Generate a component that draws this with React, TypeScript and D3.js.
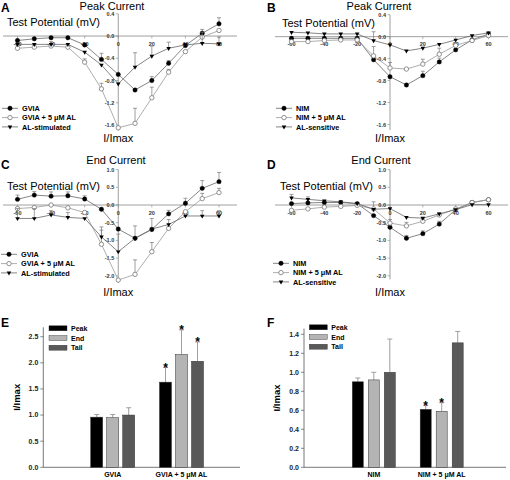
import React from "react";
import * as d3 from "d3";

// ---------- data ----------
const voltages = [-60, -50, -40, -30, -20, -10, 0, 10, 20, 30, 40, 50, 60];
const xTickValues = [-60, -40, -20, 0, 20, 40, 60];

// Panel A: Peak current (GVIA)
const aGVIA = [-0.08, -0.05, -0.03, -0.03, -0.16, -0.42, -0.69, -0.97, -0.8, -0.49, -0.17, 0.05, 0.22];
const aGVIAErr = [0, 0, 0, 0, 0, 0.11, 0, 0, 0.07, 0.05, 0, 0.07, 0.11];
const aGVIAAL = [-0.22, -0.2, -0.18, -0.2, -0.47, -0.95, -1.65, -1.57, -1.11, -0.65, -0.28, -0.02, 0.1];
const aGVIAALErr = [0, 0, 0, 0, 0.06, 0.1, 0, 0.27, 0.19, 0.05, 0, 0, 0];
const aALStim = [-0.15, -0.15, -0.15, -0.15, -0.29, -0.52, -0.86, -0.56, -0.36, -0.22, -0.16, -0.13, -0.14];
const aALStimErr = [0, 0, 0.05, 0, 0, 0, 0, 0.26, 0.18, 0.11, 0, 0.2, 0.12];

// Panel B: Peak current (NIM)
const bNIM = [-0.03, -0.03, -0.03, -0.03, -0.03, -0.42, -0.73, -0.88, -0.71, -0.46, -0.24, -0.06, 0.05];
const bNIMErr = [0, 0, 0, 0, 0, 0, 0, 0, 0.08, 0.07, 0, 0, 0];
const bNIMAL = [-0.09, -0.09, -0.07, -0.06, -0.06, -0.35, -0.57, -0.59, -0.5, -0.32, -0.16, -0.07, 0.02];
const bNIMALErr = [0, 0, 0, 0, 0, 0.17, 0.1, 0, 0.09, 0.11, 0.05, 0, 0];
const bALSens = [0.08, 0.07, 0.05, 0.05, 0.05, -0.07, -0.15, -0.26, -0.21, -0.14, -0.06, 0.02, 0.07];
const bALSensErr = [0, 0, 0, 0, 0, 0.16, 0, 0, 0, 0, 0, 0, 0];

// Panel C: End current (GVIA)
const cGVIA = [0.16, 0.28, 0.25, 0.26, 0.17, -0.12, -0.68, -0.94, -0.69, -0.25, 0.05, 0.47, 0.66];
const cGVIAErr = [0.12, 0.1, 0.12, 0.11, 0.09, 0, 0, 0.35, 0.31, 0.1, 0.14, 0.22, 0.26];
const cGVIAAL = [-0.1, -0.07, 0.0, -0.08, -0.21, -1.11, -2.12, -1.96, -1.32, -0.66, -0.19, 0.18, 0.35];
const cGVIAALErr = [0, 0, 0, 0, 0, 0.4, 0, 0.41, 0.26, 0, 0, 0.15, 0.12];
const cALStim = [-0.38, -0.38, -0.28, -0.35, -0.38, -0.9, -1.32, -0.94, -0.68, -0.55, -0.31, -0.31, -0.31];
const cALStimErr = [0.28, 0.28, 0.12, 0.14, 0, 0.28, 0.5, 0, 0, 0.14, 0, 0.15, 0.15];

// Panel D: End current (NIM)
const dNIM = [0.04, 0.06, 0.07, 0.07, 0.04, -0.3, -0.63, -0.94, -0.81, -0.54, -0.13, 0.07, 0.15];
const dNIMErr = [0, 0, 0, 0, 0, 0, 0, 0.08, 0.08, 0.08, 0, 0, 0];
const dNIMAL = [-0.15, -0.11, -0.06, -0.04, -0.01, -0.11, -0.51, -0.59, -0.46, -0.28, -0.11, 0.07, 0.15];
const dNIMALErr = [0, 0, 0, 0, 0, 0.2, 0.1, 0.1, 0.07, 0.05, 0, 0.05, 0];
const dALSens = [0.2, 0.16, 0.12, 0.09, 0.04, -0.12, -0.1, -0.35, -0.37, -0.25, -0.13, 0.01, 0.01];
const dALSensErr = [0.1, 0.07, 0, 0, 0, 0, 0, 0, 0, 0, 0, 0, 0];

const peakTicks = [0.4, 0.0, -0.4, -0.8, -1.2, -1.6];
const endTicks = [1.0, 0.5, 0.0, -0.5, -1.0, -1.5, -2.0];

// Panel E bars
const eGroups = ["GVIA", "GVIA + 5 μM AL"];
const ePeak = [0.96, 1.63];
const eEnd = [0.95, 2.16];
const eTail = [1.0, 2.03];
const ePeakErr = [0.05, 0.28];
const eEndErr = [0.06, 0.47];
const eTailErr = [0.14, 0.37];
const eStar = [[false, false, false], [true, true, true]];
const eTicks = [0, 0.5, 1.0, 1.5, 2.0, 2.5];

// Panel F bars
const fGroups = ["NIM", "NIM + 5 μM AL"];
const fPeak = [0.9, 0.61];
const fEnd = [0.92, 0.59];
const fTail = [1.0, 1.31];
const fPeakErr = [0.04, 0.04];
const fEndErr = [0.08, 0.09];
const fTailErr = [0.35, 0.12];
const fStar = [[false, false, false], [true, true, false]];
const fTicks = [0, 0.2, 0.4, 0.6, 0.8, 1.0, 1.2, 1.4];

const barSeries = ["Peak", "End", "Tail"];
const barColors = ["#000000", "#b4b4b4", "#595959"];

const FONT = "Arial, 'Liberation Sans', Helvetica, sans-serif";

type Series = { name: string; values: number[]; err: number[]; marker: "filled" | "open" | "tri" };

function Marker({ x, y, kind }: { x: number; y: number; kind: string }) {
  if (kind === "filled") return <circle cx={x} cy={y} r={2.2} fill="#000" stroke="#000" strokeWidth={0.4} />;
  if (kind === "open") return <circle cx={x} cy={y} r={2.2} fill="#fff" stroke="#777" strokeWidth={0.8} />;
  const p = d3.symbol().type(d3.symbolTriangle).size(9)() as string;
  return <path d={p} transform={`translate(${x},${y}) rotate(180)`} fill="#000" />;
}

type IVProps = {
  letter: string;
  letterX: number;
  letterY: number;
  title: string;
  titleX: number;
  titleY: number;
  tpX: number;
  tpY: number;
  ylabY: number;
  xRange: [number, number];
  axisXExtent: [number, number];
  yDomain: [number, number];
  yRange: [number, number];
  yAxisDomain: [number, number];
  yTicks: number[];
  series: Series[];
  legendX: number;
  legendY: number;
};

function IVPanel(p: IVProps) {
  const x = d3.scaleLinear().domain([-60, 60]).range(p.xRange);
  const y = d3.scaleLinear().domain(p.yDomain).range(p.yRange);
  const x0 = x(0);
  const y0 = y(0);
  const line = d3
    .line<number>()
    .x((_, i) => x(voltages[i]))
    .y((d) => y(d));
  const legRow = 9.3;
  return (
    <g>
      <text x={p.letterX} y={p.letterY} fontSize={12} fontWeight="bold" fontFamily={FONT}>
        {p.letter}
      </text>
      <text x={p.titleX} y={p.titleY} fontSize={11} textAnchor="middle" fontFamily={FONT}>
        {p.title}
      </text>
      <text x={p.tpX} y={p.tpY} fontSize={11} fontFamily={FONT}>
        Test Potential (mV)
      </text>
      <text x={x0} y={p.ylabY} fontSize={11} textAnchor="middle" fontFamily={FONT}>
        I/Imax
      </text>
      {/* axes */}
      <line x1={p.axisXExtent[0]} x2={p.axisXExtent[1]} y1={y0} y2={y0} stroke="#888" strokeWidth={0.8} />
      <line x1={x0} x2={x0} y1={y(p.yAxisDomain[0])} y2={y(p.yAxisDomain[1])} stroke="#888" strokeWidth={0.8} />
      {p.yTicks.map((t) => (
        <g key={"yt" + t}>
          <line x1={x0 - 2.5} x2={x0} y1={y(t)} y2={y(t)} stroke="#888" strokeWidth={0.6} />
          <text x={x0 - 4} y={y(t) + 2} fontSize={5.5} fontWeight="bold" textAnchor="end" fill="#333" fontFamily={FONT}>
            {t.toFixed(1)}
          </text>
        </g>
      ))}
      {xTickValues.map((t) => (
        <g key={"xt" + t}>
          <line x1={x(t)} x2={x(t)} y1={y0} y2={y0 + 2.5} stroke="#888" strokeWidth={0.6} />
          <text x={x(t)} y={y0 + 9.5} fontSize={5.5} fontWeight="bold" textAnchor="middle" fill="#333" fontFamily={FONT}>
            {t}
          </text>
        </g>
      ))}
      {/* series */}
      {p.series.map((s) => (
        <g key={s.name}>
          <path d={line(s.values) as string} fill="none" stroke={s.marker === "open" ? "#999" : "#666"} strokeWidth={0.8} />
          {s.values.map((v, i) =>
            s.err[i] > 0 ? (
              <g key={"e" + i}>
                <line x1={x(voltages[i])} x2={x(voltages[i])} y1={y(v)} y2={y(v + s.err[i])} stroke="#777" strokeWidth={0.7} />
                <line x1={x(voltages[i]) - 2} x2={x(voltages[i]) + 2} y1={y(v + s.err[i])} y2={y(v + s.err[i])} stroke="#777" strokeWidth={0.7} />
              </g>
            ) : null
          )}
          {s.values.map((v, i) => (
            <Marker key={"m" + i} x={x(voltages[i])} y={y(v)} kind={s.marker} />
          ))}
        </g>
      ))}
      {/* legend */}
      {p.series.map((s, i) => (
        <g key={"lg" + s.name}>
          <line x1={p.legendX} x2={p.legendX + 16} y1={p.legendY + i * legRow} y2={p.legendY + i * legRow} stroke={s.marker === "open" ? "#999" : "#666"} strokeWidth={0.8} />
          <Marker x={p.legendX + 8} y={p.legendY + i * legRow} kind={s.marker} />
          <text x={p.legendX + 20} y={p.legendY + i * legRow + 2.6} fontSize={7.3} fontWeight="bold" fontFamily={FONT}>
            {s.name}
          </text>
        </g>
      ))}
    </g>
  );
}

type BarProps = {
  letter: string;
  letterX: number;
  letterY: number;
  groups: string[];
  vals: number[][];
  errs: number[][];
  stars: boolean[][];
  groupRange: [number, number];
  barHalf: number;
  padInner: number;
  axisX: [number, number];
  yDomain: [number, number];
  yRange: [number, number];
  yTop: number;
  ticks: number[];
  ylabX: number;
  legendX: number;
  legendY: number;
};

function BarPanel(p: BarProps) {
  const y = d3.scaleLinear().domain(p.yDomain).range(p.yRange);
  const gx = d3.scalePoint<string>().domain(p.groups).range(p.groupRange);
  const sx = d3.scaleBand<string>().domain(barSeries).range([-p.barHalf, p.barHalf]).paddingInner(p.padInner).paddingOuter(0);
  const bw = sx.bandwidth();
  const y0 = y(0);
  return (
    <g>
      <text x={p.letterX} y={p.letterY} fontSize={12} fontWeight="bold" fontFamily={FONT}>
        {p.letter}
      </text>
      <line x1={p.axisX[0]} x2={p.axisX[1]} y1={y0} y2={y0} stroke="#555" strokeWidth={0.8} />
      <line x1={p.axisX[0]} x2={p.axisX[0]} y1={y0} y2={y(p.yTop)} stroke="#555" strokeWidth={0.8} />
      {p.ticks.map((t) => (
        <g key={"t" + t}>
          <line x1={p.axisX[0] - 3} x2={p.axisX[0]} y1={y(t)} y2={y(t)} stroke="#555" strokeWidth={0.7} />
          <text x={p.axisX[0] - 5} y={y(t) + 2.4} fontSize={7} fontWeight="bold" textAnchor="end" fill="#222" fontFamily={FONT}>
            {t.toFixed(1)}
          </text>
        </g>
      ))}
      <text
        transform={`translate(${p.ylabX},${(y0 + y(p.yTop)) / 2}) rotate(-90)`}
        fontSize={9.5}
        fontWeight="bold"
        textAnchor="middle"
        fontFamily={FONT}
      >
        I/Imax
      </text>
      {p.groups.map((g, gi) => (
        <g key={g}>
          {barSeries.map((s, si) => {
            const v = p.vals[si][gi];
            const e = p.errs[si][gi];
            const bx = (gx(g) as number) + (sx(s) as number);
            const cx = bx + bw / 2;
            return (
              <g key={s}>
                <line x1={cx} x2={cx} y1={y(v)} y2={y(v + e)} stroke="#888" strokeWidth={0.8} />
                <line x1={cx - 2.5} x2={cx + 2.5} y1={y(v + e)} y2={y(v + e)} stroke="#888" strokeWidth={0.8} />
                <rect x={bx} y={y(v)} width={bw} height={y0 - y(v)} fill={barColors[si]} stroke="#333" strokeWidth={0.5} />
                {p.stars[gi][si] ? (
                  <text x={cx} y={y(v + e) + 4.5} fontSize={12} fontWeight="bold" textAnchor="middle" fontFamily={FONT}>
                    *
                  </text>
                ) : null}
              </g>
            );
          })}
          <text x={gx(g) as number} y={y0 + 9.5} fontSize={7} fontWeight="bold" textAnchor="middle" fontFamily={FONT}>
            {g}
          </text>
        </g>
      ))}
      {barSeries.map((s, si) => (
        <g key={"lg" + s}>
          <rect x={p.legendX} y={p.legendY + si * 9.7 - 2.5} width={18} height={5} fill={barColors[si]} stroke="#333" strokeWidth={0.4} />
          <text x={p.legendX + 22} y={p.legendY + si * 9.7 + 2.5} fontSize={7} fontWeight="bold" fontFamily={FONT}>
            {s}
          </text>
        </g>
      ))}
    </g>
  );
}

export default function App() {
  const seriesA: Series[] = [
    { name: "GVIA", values: aGVIA, err: aGVIAErr, marker: "filled" },
    { name: "GVIA + 5 μM AL", values: aGVIAAL, err: aGVIAALErr, marker: "open" },
    { name: "AL-stimulated", values: aALStim, err: aALStimErr, marker: "tri" },
  ];
  const seriesB: Series[] = [
    { name: "NIM", values: bNIM, err: bNIMErr, marker: "filled" },
    { name: "NIM + 5 μM AL", values: bNIMAL, err: bNIMALErr, marker: "open" },
    { name: "AL-sensitive", values: bALSens, err: bALSensErr, marker: "tri" },
  ];
  const seriesC: Series[] = [
    { name: "GVIA", values: cGVIA, err: cGVIAErr, marker: "filled" },
    { name: "GVIA + 5 μM AL", values: cGVIAAL, err: cGVIAALErr, marker: "open" },
    { name: "AL-stimulated", values: cALStim, err: cALStimErr, marker: "tri" },
  ];
  const seriesD: Series[] = [
    { name: "NIM", values: dNIM, err: dNIMErr, marker: "filled" },
    { name: "NIM + 5 μM AL", values: dNIMAL, err: dNIMALErr, marker: "open" },
    { name: "AL-sensitive", values: dALSens, err: dALSensErr, marker: "tri" },
  ];
  return (
    <svg width={510} height={480} style={{ position: "absolute", left: 0, top: 0, background: "#fff" }}>
      <rect width={510} height={480} fill="#fff" />
      <IVPanel
        letter="A" letterX={1} letterY={12}
        title="Peak Current" titleX={112} titleY={10}
        tpX={7} tpY={26} ylabY={142}
        xRange={[17.5, 219]} axisXExtent={[3, 237]}
        yDomain={[-1.6, 0.4]} yRange={[125, 13.8]} yAxisDomain={[-1.7, 0.4]}
        yTicks={peakTicks} series={seriesA} legendX={2} legendY={108.3}
      />
      <IVPanel
        letter="B" letterX={267} letterY={12}
        title="Peak Current" titleX={379} titleY={10}
        tpX={282} tpY={27} ylabY={142}
        xRange={[291.5, 488.5]} axisXExtent={[275, 508]}
        yDomain={[-1.6, 0.4]} yRange={[124.5, 14.7]} yAxisDomain={[-1.7, 0.4]}
        yTicks={peakTicks} series={seriesB} legendX={276} legendY={108.3}
      />
      <IVPanel
        letter="C" letterX={1} letterY={169}
        title="End Current" titleX={116} titleY={164}
        tpX={7} tpY={190} ylabY={296}
        xRange={[17.5, 219]} axisXExtent={[3, 237]}
        yDomain={[-2, 1]} yRange={[275.8, 169.6]} yAxisDomain={[-2.2, 1]}
        yTicks={endTicks} series={seriesC} legendX={1} legendY={254.3}
      />
      <IVPanel
        letter="D" letterX={267} letterY={169}
        title="End Current" titleX={381} titleY={164}
        tpX={280} tpY={190} ylabY={296}
        xRange={[291.5, 488.5]} axisXExtent={[275, 508]}
        yDomain={[-2, 1]} yRange={[275.8, 169.6]} yAxisDomain={[-2.1, 1]}
        yTicks={endTicks} series={seriesD} legendX={273} legendY={263.3}
      />
      <BarPanel
        letter="E" letterX={1} letterY={327}
        groups={eGroups} vals={[ePeak, eEnd, eTail]} errs={[ePeakErr, eEndErr, eTailErr]} stars={eStar}
        groupRange={[112.7, 181.5]} barHalf={22} padInner={0.25}
        axisX={[43.3, 240]} yDomain={[0, 2.5]} yRange={[467.3, 336.7]} yTop={2.68}
        ticks={eTicks} ylabX={20} legendX={49} legendY={328.3}
      />
      <BarPanel
        letter="F" letterX={267} letterY={327}
        groups={fGroups} vals={[fPeak, fEnd, fTail]} errs={[fPeakErr, fEndErr, fTailErr]} stars={fStar}
        groupRange={[373.8, 441.7]} barHalf={21.5} padInner={0.3125}
        axisX={[304, 506]} yDomain={[0, 1.4]} yRange={[467.3, 334.3]} yTop={1.46}
        ticks={fTicks} ylabX={280} legendX={309.3} legendY={327.3}
      />
    </svg>
  );
}
